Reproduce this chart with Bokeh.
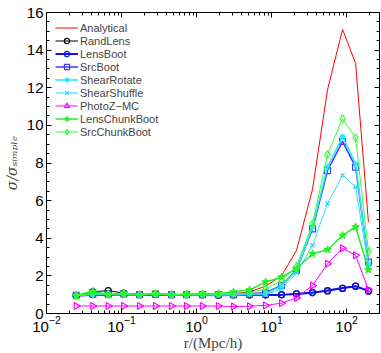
import numpy as np
from bokeh.plotting import figure
from bokeh.models import (LogAxis, LinearAxis, Range1d, SingleIntervalTicker,
                          LogTicker, Legend, LegendItem)
from bokeh.embed import file_html
from bokeh.resources import INLINE

# separation bins r (Mpc/h)
r = [0.0249, 0.0414, 0.0665, 0.107, 0.174, 0.284, 0.464, 0.736, 1.20, 1.96,
     3.11, 5.09, 8.32, 13.6, 21.5, 35.2, 55.8, 88.5, 132, 196]

analytical = [0.97, 1.0, 1.0, 1.0, 1.0, 1.0, 1.0, 1.0, 1.02, 1.03,
              1.05, 1.15, 1.45, 2.0, 3.35, 6.6, 11.9, 15.1, 13.3, 4.85]
randlens = [0.96, 1.15, 1.22, 1.08, 1.0, 1.03, 1.0, 1.0, 1.0, 1.0,
            1.0, 1.0, 1.0, 1.0, 1.05, 1.13, 1.2, 1.33, 1.45, 1.2]
lensboot = [0.95, 1.0, 1.0, 1.02, 0.99, 1.0, 0.99, 1.0, 0.99, 0.97,
            0.98, 0.98, 0.98, 0.99, 1.04, 1.1, 1.22, 1.35, 1.45, 1.2]
srcboot = [0.97, 1.03, 1.03, 1.05, 1.0, 1.03, 1.0, 1.0, 1.0, 1.0,
           1.0, 1.05, 1.1, 1.5, 2.3, 4.5, 7.6, 9.15, 7.78, 2.73]
shearrotate = [0.96, 1.02, 1.02, 1.04, 1.0, 1.02, 1.0, 1.0, 1.0, 1.0,
               1.0, 1.02, 1.05, 1.45, 2.3, 4.6, 7.8, 9.4, 7.95, 2.6]
shearshuffle = [0.95, 1.0, 1.0, 1.02, 0.99, 1.0, 0.99, 0.99, 0.99, 0.98,
                0.98, 1.0, 1.0, 1.3, 2.15, 3.62, 5.84, 7.35, 6.73, 2.5]
photoz = [0.4, 0.4, 0.4, 0.4, 0.4, 0.4, 0.4, 0.4, 0.4, 0.4,
          0.37, 0.39, 0.43, 0.55, 0.83, 1.49, 2.65, 3.47, 3.1, 1.26]
lenschunk = [0.96, 1.18, 1.0, 1.08, 1.0, 1.05, 1.0, 1.02, 1.05, 1.05,
             1.15, 1.25, 1.67, 1.93, 2.38, 3.18, 3.39, 4.15, 4.6, 2.32]
srcchunk = [0.97, 1.05, 1.03, 1.06, 1.0, 1.05, 1.0, 1.02, 1.03, 1.05,
            1.05, 1.1, 1.3, 1.75, 2.5, 4.77, 8.45, 10.35, 9.34, 3.3]

names = ["Analytical", "RandLens", "LensBoot", "SrcBoot", "ShearRotate",
         "ShearShuffle", "PhotoZ\u2212MC", "LensChunkBoot", "SrcChunkBoot"]

FONT = "Liberation Sans"

p = figure(width=381, height=353, x_axis_type="log",
           x_range=Range1d(0.01, 275), y_range=Range1d(0, 16),
           output_backend="svg", toolbar_location=None,
           min_border_left=44, min_border_right=2, min_border_top=12,
           min_border_bottom=38)
p.background_fill_color = "white"
p.border_fill_color = "white"
p.outline_line_color = "black"
p.outline_line_width = 1
p.grid.visible = False

# styles: (data, color, marker, line_width, marker_size, angle)
series = [
    (analytical, "#ff0000", None, 1, 0, 0),
    (randlens, "#000000", "circle", 1, 6, 0),
    (lensboot, "#1010ee", "circle", 2, 6, 0),
    (srcboot, "#3a3aff", "square", 1.5, 6, 0),
    (shearrotate, "#22e8ff", "asterisk", 1.5, 6, 0),
    (shearshuffle, "#33d6ff", "x", 1, 6, 0),
    (photoz, "#ff00ff", "triangle", 1, 7, -np.pi / 2),
    (lenschunk, "#22ee22", "star", 1.5, 8, 0),
    (srcchunk, "#33ff33", "diamond", 1, 8, 0),
]

items = []
for (vals, col, mk, lw, ms, ang), nm in zip(series, names):
    rs = [p.line(r, vals, line_color=col, line_width=lw)]
    if mk is not None:
        if mk in ("asterisk", "x"):
            rs.append(p.scatter(r, vals, marker=mk, size=ms, line_color=col,
                                line_width=1.2))
        elif mk == "star":
            rs.append(p.scatter(r, vals, marker=mk, size=ms, line_color=col,
                                fill_color=col, line_width=1))
        else:
            rs.append(p.scatter(r, vals, marker=mk, size=ms, line_color=col,
                                fill_color=None, line_width=1.2, angle=ang))
    items.append(LegendItem(label=nm, renderers=rs))

legend = Legend(items=items, location="top_left", margin=3, padding=6,
                spacing=0, label_height=13, glyph_height=13, glyph_width=23,
                label_standoff=2, label_text_font=FONT,
                label_text_font_size="11px", border_line_alpha=0,
                background_fill_alpha=0)
p.add_layout(legend)

# axes styling
xa = p.xaxis[0]
ya = p.yaxis[0]
xa.ticker = LogTicker(num_minor_ticks=10)
ya.ticker = SingleIntervalTicker(interval=2, num_minor_ticks=4)
for ax in (xa, ya):
    ax.major_tick_in = 5
    ax.major_tick_out = 0
    ax.minor_tick_in = 3
    ax.minor_tick_out = 0
    ax.axis_line_color = "black"
    ax.major_label_text_font = FONT
    ax.major_label_text_font_size = "15px"
    ax.major_label_text_color = "black"
ya.major_label_standoff = 3
xa.major_label_standoff = 2
xa.axis_label = "r/(Mpc/h)"
xa.axis_label_text_font = "Liberation Serif"
xa.axis_label_text_font_style = "normal"
xa.axis_label_text_font_size = "15px"
xa.axis_label_standoff = 0

ya.axis_label = "\u03c3/\u03c3\u209b\u1d62\u2098\u209a\u2097\u2091"
ya.axis_label_text_font = "DejaVu Serif"
ya.axis_label_text_font_style = "italic"
ya.axis_label_text_font_size = "14px"
ya.axis_label_standoff = 4

# mirrored ticks on top and right
top = LogAxis(ticker=LogTicker(num_minor_ticks=10))
right = LinearAxis(ticker=SingleIntervalTicker(interval=2, num_minor_ticks=4))
for ax in (top, right):
    ax.major_tick_in = 5
    ax.major_tick_out = 0
    ax.minor_tick_in = 3
    ax.minor_tick_out = 0
    ax.major_label_text_font_size = "1px"
    ax.major_label_text_alpha = 0
    ax.major_label_standoff = 0
    ax.axis_line_color = "black"
p.add_layout(top, "above")
p.add_layout(right, "right")

open("out.html", "w").write(file_html(p, INLINE))
